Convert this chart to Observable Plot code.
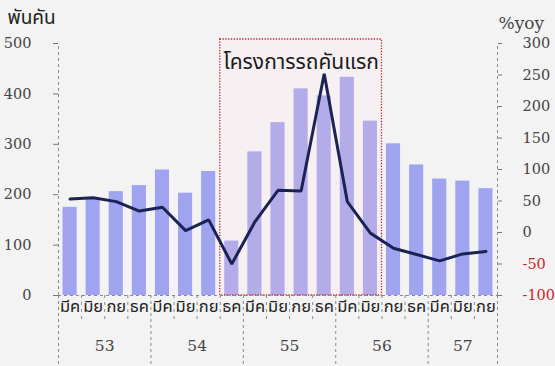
<!DOCTYPE html>
<html>
<head>
<meta charset="utf-8">
<script src="https://cdn.jsdelivr.net/npm/d3@7"></script>
<script src="https://cdn.jsdelivr.net/npm/@observablehq/plot@0.6"></script>
<style>
  html, body { margin: 0; padding: 0; background: #f3f3f3; }
  #chart { width: 555px; height: 366px; }
  #chart svg, #chart svg text { font-family: "DejaVu Serif", serif !important; }
  #chart svg g.thai text { font-family: "Noto Sans Thai", "Noto Sans Thai Looped", "Loma", "Garuda", "DejaVu Sans", sans-serif !important; }
</style>
</head>
<body>
<div id="chart"></div>
<script>
// ---- data ----
const quarters = ["มีค","มิย","กย","ธค","มีค","มิย","กย","ธค","มีค","มิย","กย","ธค","มีค","มิย","กย","ธค","มีค","มิย","กย"];
const quarterYears = ["53","53","53","53","54","54","54","54","55","55","55","55","56","56","56","56","57","57","57"];
const sales = [175, 191, 206, 218, 249, 203, 246, 108, 285, 343, 410, 396, 433, 346, 301, 259, 231, 227, 212]; // พันคัน
const yoy = [53, 55, 49, 34, 40, 3, 20, -50, 17, 67, 66, 252, 49, -1, -25, -35, -45, -34, -30]; // %yoy
const years = ["53","54","55","56","57"];
const leftTicks = [0, 100, 200, 300, 400, 500];
const rightTicks = [-100, -50, 0, 50, 100, 150, 200, 250, 300];
const schemeLabel = "โครงการรถคันแรก";
const schemeFrom = {q: "ธค", y: "54"};
const schemeTo = {q: "มิย", y: "56"};
const leftTitle = "พันคัน";
const rightTitle = "%yoy";

// ---- derived ----
const leftDomain = [0, 500];
const rightDomain = [-100, 300];
const toLeft = v => leftDomain[0] + (v - rightDomain[0]) * (leftDomain[1] - leftDomain[0]) / (rightDomain[1] - rightDomain[0]);
const fromLeft = v => rightDomain[0] + (v - leftDomain[0]) * (rightDomain[1] - rightDomain[0]) / (leftDomain[1] - leftDomain[0]);

const rows = quarters.map((q, i) => ({i, q, yr: quarterYears[i], sales: sales[i], yoy: yoy[i]}));
const n = rows.length;
const idx = o => rows.findIndex(r => r.q === o.q && r.yr === o.y);
const hs = idx(schemeFrom), he = idx(schemeTo) + 1;
const inScheme = r => r.i >= hs && r.i < he;

const yearSpans = years.map(y => {
  const ii = rows.filter(r => r.yr === y).map(r => r.i);
  return {y, start: d3.min(ii), end: d3.max(ii) + 1};
});
const yearBounds = [...new Set(yearSpans.flatMap(s => [s.start, s.end]))];
const quarterBounds = d3.range(1, n).filter(b => !yearBounds.includes(b));

const chart = Plot.plot({
  width: 555,
  height: 366,
  marginLeft: 58,
  marginRight: 58,
  marginTop: 43,
  marginBottom: 71,
  style: {background: "#f3f3f3", overflow: "visible"},
  x: {type: "linear", domain: [0, n], axis: null},
  y: {domain: leftDomain, axis: null},
  marks: [
    // scheme box background
    Plot.rect([schemeLabel], {x1: () => hs, x2: () => he, y1: () => 0, y2: () => 500, insetTop: -4,
      fill: "#f6f0f2", stroke: "none"}),
    // bars
    Plot.rectY(rows, {x1: "i", x2: d => d.i + 1, y: "sales", insetLeft: 4.5, insetRight: 4.5,
      fill: d => inScheme(d) ? "#b4abe9" : "#9fa3f0"}),
    // scheme box border
    Plot.rect([schemeLabel], {x1: () => hs, x2: () => he, y1: () => 0, y2: () => 500, insetTop: -4,
      fill: "none", stroke: "#c8202a", strokeWidth: 1.3, strokeDasharray: "1.3,1.5"}),
    // left axis
    Plot.ruleX([0], {y1: leftDomain[0], y2: leftDomain[1], stroke: "#8a8a8a", strokeDasharray: "3,3"}),
    Plot.axisY({anchor: "left", label: null, ticks: leftTicks, tickSize: 5, tickPadding: 22, tickFormat: d => String(d),
      fontSize: 14.5, fill: "#444", stroke: "#777"}),
    // right axis
    Plot.ruleX([n], {y1: leftDomain[0], y2: leftDomain[1], stroke: "#8a8a8a", strokeDasharray: "3,3"}),
    Plot.axisY({anchor: "right", label: null, ticks: rightTicks.filter(t => t >= 0).map(toLeft), tickSize: 4, tickPadding: 21,
      tickFormat: d => String(Math.round(fromLeft(d))), fontSize: 14.5, fill: "#444", stroke: "#777"}),
    Plot.axisY({anchor: "right", label: null, ticks: rightTicks.filter(t => t < 0).map(toLeft), tickSize: 4, tickPadding: 21,
      tickFormat: d => "-" + String(Math.abs(Math.round(fromLeft(d)))), fontSize: 14.5, fill: "#d0222b", stroke: "#777"}),
    // x axis separators
    Plot.ruleX(quarterBounds, {x: d => d, y1: 0, y2: -50, stroke: "#8a8a8a", strokeDasharray: "3,4"}),
    Plot.ruleX(yearBounds, {x: d => d, y1: 0, y2: -142, stroke: "#8a8a8a", strokeDasharray: "3,3"}),
    Plot.ruleY([0], {stroke: "#8a8a8a", strokeDasharray: "3,3"}),
    // quarter labels
    Plot.text(rows, {x: d => d.i + 0.5, text: "q", frameAnchor: "bottom", dy: 16, fontSize: 16.5,
      fill: "#222", className: "thai"}),
    // year labels
    Plot.text(yearSpans, {x: d => (d.start + d.end) / 2, text: "y", frameAnchor: "bottom", dy: 55,
      fontSize: 15.5, fill: "#444"}),
    // yoy line
    Plot.line(rows, {x: d => d.i + 0.5, y: d => toLeft(d.yoy), stroke: "#1c2354", strokeWidth: 3,
      strokeLinejoin: "miter"}),
    // scheme label
    Plot.text([schemeLabel], {x: () => (hs + he) / 2, frameAnchor: "top", dy: 11, text: d => d,
      fontSize: 21, fill: "#1a1a1a", className: "thai"}),
    // axis titles
    Plot.text([leftTitle], {frameAnchor: "top-left", dx: -51, dy: -33, text: d => d, textAnchor: "start",
      fontSize: 19, fill: "#222", className: "thai"}),
    Plot.text([rightTitle], {frameAnchor: "top-right", dx: 1, dy: -27, text: d => d, textAnchor: "start",
      fontSize: 17, fill: "#444"})
  ]
});
document.getElementById("chart").appendChild(chart);
</script>
</body>
</html>
